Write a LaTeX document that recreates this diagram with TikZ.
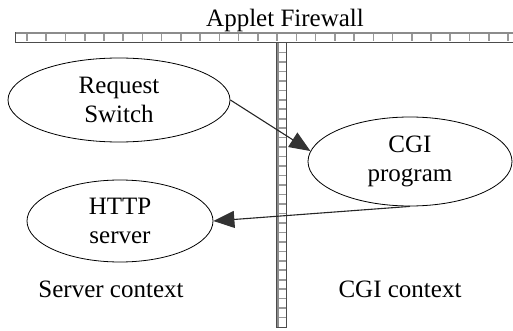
\documentclass[tikz,border=0pt]{standalone}
\usepackage{fontspec}
\setmainfont{Liberation Serif}
\usetikzlibrary{shapes.geometric,arrows.meta}
\begin{document}
\begin{tikzpicture}[x=1pt,y=-1pt,
  every node/.style={font=\fontsize{25}{29}\selectfont, inner sep=0pt},
  oval/.style={draw, ellipse, line width=0.8pt, align=center},
  label/.style={anchor=base},
  flow/.style={draw=black!85, line width=1.1pt,
    -{Triangle[length=21pt,width=17pt,color=black!80,fill=black!80]}},
  wallframe/.style={draw=black!70, line width=0.9pt, fill=white},
  wallcell/.style={draw=black!40, line width=1.6pt}]
\useasboundingbox (0,0) rectangle (513,331);

% horizontal firewall bar
\path[wallframe] (15.5,32.5) rectangle (515,42.5);
\foreach \i in {0,...,25} \draw[wallcell] (27+19.24*\i,33.5) -- (27+19.24*\i,41.5);
\draw[black!45, line width=1.6pt] (16,33) -- (513,33);

% vertical firewall bar
\path[wallframe] (276.5,42.5) rectangle (286.5,327);
\foreach \j in {1,...,29} \draw[wallcell] (277.5,43+9.47*\j) -- (285.5,43+9.47*\j);
\draw[black!45, line width=1.6pt] (278,43) -- (278,326.5);

% title and context labels
\node[label] (title) at (285,27) {Applet Firewall};
\node[label] (srvctx) at (111,297) {Server context};
\node[label] (cgictx) at (400,297) {CGI context};

% processes
\node[oval, minimum width=222pt, minimum height=84pt] (req) at (119,100) {Request\\Switch};
\node[oval, minimum width=204pt, minimum height=89pt] (cgi) at (410,161.5) {CGI\\program};
\node[oval, minimum width=186pt, minimum height=82pt] (http) at (120,221) {HTTP\\server};

% message flow
\path[flow] (req.east) -- (cgi.174);
\path[flow] (cgi.south) -- (http.east);
\end{tikzpicture}
\end{document}
